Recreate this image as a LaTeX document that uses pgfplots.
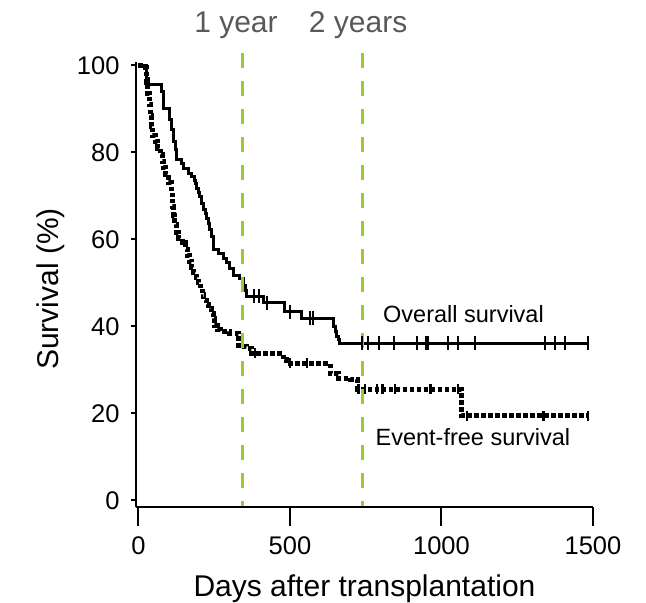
\documentclass[border=0pt]{standalone}
\usepackage{pgfplots}
\pgfplotsset{compat=1.18}
\usepackage{fontspec}
\setmainfont{Liberation Sans}
\definecolor{yrgreen}{RGB}{153,204,51}
\definecolor{yrgray}{RGB}{89,89,89}
\pgfplotsset{
  commonaxis/.style={
    at={(136pt,-507pt)}, anchor=south west,
    scale only axis, width=457pt, height=445pt,
    xmin=-8, xmax=1500, ymin=-1.5, ymax=100.8,
    clip=false,
    axis line style={line width=2pt, -},
    tick align=outside,
    tick style={line width=2pt, black},
    tick label style={font=\fontsize{25.5}{26}\selectfont},
    /pgf/number format/assume math mode=true,
    /pgf/number format/1000 sep={},
  }
}
\begin{document}
\begin{tikzpicture}[x=1pt,y=1pt]
\useasboundingbox (0,0) rectangle (646,-603);
\begin{axis}[
  commonaxis,
  axis x line=none, axis y line*=left,
  ytick={0,20,40,60,80,100},
  major tick length=5pt,
  yticklabel style={xshift=-8pt},
  ylabel={Survival (\%)},
  ylabel style={font=\fontsize{30}{30}\selectfont, at={(axis description cs:-0.186,0.49)}, anchor=center},
]
% Overall survival
\addplot[const plot, line width=3pt, black] coordinates {
(0,100) (25,97.1) (33,95.7) (77,94) (82,90.2) (104,87.5) (110,85.2) (116,82.5)
(121,80.6) (126,78.3) (143,77.5) (148,76.4) (165,75.2) (176,74.5) (184,73.5)
(187,72.9) (192,71.8) (198,70.8) (203,69.9) (209,68.3) (214,67) (220,66)
(226,64.8) (231,63.7) (236,62.2) (242,60.7) (247,57.6) (264,56.8) (280,55.7)
(291,54.6) (302,53.4) (313,51.8) (335,51.1) (346,49.5) (352,48.2) (357,46.9)
(412,45.4) (483,43.4) (538,41.9) (643,40) (649,38.8) (654,37.7) (660,37)
(665,36.2) (1486,36.2)
};
% Event-free survival
\addplot[const plot, line width=5pt, black, dash pattern=on 4.5pt off 2.5pt] coordinates {
(0,100) (22,99.5) (26,96) (30,93.5) (35,91) (39,88.5) (43,86) (48,84) (55,82.5)
(63,81) (72,79.5) (79,78) (84,76.5) (90,75) (100,73) (108,71) (111,69.5)
(114,67.5) (117,65.5) (120,63.5) (126,61.5) (132,60.3) (145,59.2) (155,57.8)
(162,56.4) (168,55) (175,53.5) (182,52.5) (190,51.2) (197,50) (204,48.8)
(210,47.4) (216,46) (224,45) (232,44.2) (242,43) (247,41.8) (252,40.3)
(262,39.3) (270,38.8) (300,38.5) (330,35.7) (341,35.4) (358,35) (374,33.8)
(478,32.3) (489,31.5) (633,29.2) (660,28.1) (700,27.8) (722,25.6) (1067,25.6)
(1067,19.5) (1484,19.5)
};
% censor marks OS
\addplot[only marks, mark=|, mark size=7pt, mark options={line width=2pt}, black] coordinates {
(381,46.9) (398,46.9) (423,45.4) (500,43.4) (566,41.9) (577,41.9)
(737,36.2) (757,36.2) (795,36.2) (842,36.2) (919,36.2) (949,36.2) (957,36.2)
(1020,36.2) (1056,36.2) (1109,36.2) (1342,36.2) (1375,36.2) (1408,36.2) (1484,36.2)
};
% censor marks EFS
\addplot[only marks, mark=|, mark size=5pt, mark options={line width=2.5pt}, black] coordinates {
(385,33.8) (500,31.5) (556,31.5) (727,25.6) (748,25.6) (787,25.6) (805,25.6)
(847,25.6) (963,25.6) (1054,25.6) (1084,19.5) (1337,19.5) (1484,19.5)
};
% year lines
\addplot[yrgreen, line width=3pt, dash pattern=on 15pt off 13pt] coordinates {(344,102.9) (344,-1.5)};
\addplot[yrgreen, line width=3pt, dash pattern=on 15pt off 13pt] coordinates {(738,102.9) (738,-1.5)};
\node[font=\fontsize{30}{30}\selectfont, text=yrgray, anchor=base] at (axis cs:322,107.5) {1 year};
\node[font=\fontsize{30}{30}\selectfont, text=yrgray, anchor=base] at (axis cs:725,107.5) {2 years};
\node[font=\fontsize{23.5}{24}\selectfont, anchor=base west, inner sep=0pt] at (axis cs:807,41) {Overall survival};
\node[font=\fontsize{23.5}{24}\selectfont, anchor=base west, inner sep=0pt] at (axis cs:782,12.7) {Event-free survival};
\end{axis}
\begin{axis}[
  commonaxis,
  axis x line*=bottom, axis y line=none,
  xtick={0,500,1000,1500},
  major tick length=19pt,
  xticklabel style={yshift=-7pt},
  xlabel={Days after transplantation},
  xlabel style={font=\fontsize{30}{30}\selectfont, at={(axis description cs:0.5,-0.2022)}, anchor=base},
]
\end{axis}
\end{tikzpicture}
\end{document}
